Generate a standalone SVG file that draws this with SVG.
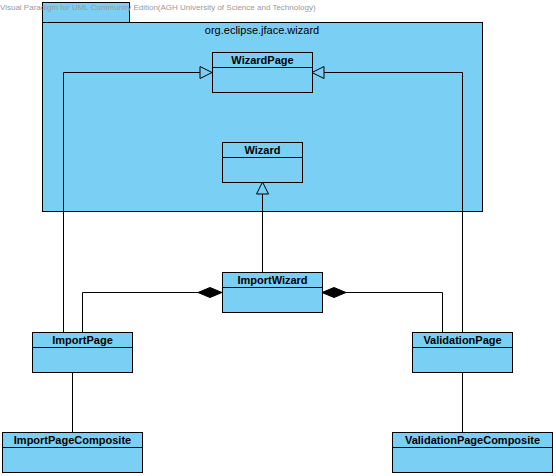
<svg xmlns="http://www.w3.org/2000/svg" width="556" height="476" viewBox="0 0 556 476">
<style>
.box{fill:#7ACFF5;stroke:#000;stroke-width:1}
.ln{fill:none;stroke:#000;stroke-width:1}
.name{font-family:"Liberation Sans",Arial,sans-serif;font-size:11px;font-weight:bold;text-anchor:middle;fill:#000}
.pkg{font-family:"Liberation Sans",Arial,sans-serif;font-size:11px;text-anchor:middle;fill:#000}
.wm{font-family:"Liberation Sans",Arial,sans-serif;font-size:8px;fill:#9a9a9a}
.gen{fill:#7ACFF5;stroke:#000;stroke-width:1}
.comp{fill:#000;stroke:#000;stroke-width:1}
</style>
<rect width="556" height="476" fill="#fff"/>
<g id="package">
<rect class="box" x="42.5" y="2.5" width="87" height="20"/>
<rect class="box" x="42.5" y="22.5" width="440" height="189"/>
<text class="pkg" x="262" y="34">org.eclipse.jface.wizard</text>
</g>
<text class="wm" x="0" y="10">Visual Paradigm for UML Community Edition(AGH University of Science and Technology)</text>
<g id="connectors">
<polyline class="ln" points="63.5,332 63.5,72.5 200,72.5"/>
<polygon class="gen" points="212,72.5 200,66.5 200,78.5"/>
<polyline class="ln" points="462.5,332 462.5,72.5 324,72.5"/>
<polygon class="gen" points="312,72.5 324,66.5 324,78.5"/>
<line class="ln" x1="262.5" y1="272" x2="262.5" y2="194"/>
<polygon class="gen" points="262.5,182 256.5,194 268.5,194"/>
<polyline class="ln" points="82.5,332 82.5,292.5 198,292.5"/>
<polygon class="comp" points="222,292.5 210,287.5 198,292.5 210,297.5"/>
<polyline class="ln" points="442.5,332 442.5,292.5 346,292.5"/>
<polygon class="comp" points="322,292.5 334,287.5 346,292.5 334,297.5"/>
<line class="ln" x1="72.5" y1="372" x2="72.5" y2="432"/>
<line class="ln" x1="462.5" y1="372" x2="462.5" y2="432"/>
</g>
<g id="WizardPage">
<rect class="box" x="212.5" y="52.5" width="100" height="40"/>
<line class="ln" x1="212.5" y1="67.5" x2="312.5" y2="67.5"/>
<text class="name" x="262.5" y="64">WizardPage</text>
</g>
<g id="Wizard">
<rect class="box" x="222.5" y="142.5" width="80" height="40"/>
<line class="ln" x1="222.5" y1="157.5" x2="302.5" y2="157.5"/>
<text class="name" x="262.5" y="154">Wizard</text>
</g>
<g id="ImportWizard">
<rect class="box" x="222.5" y="272.5" width="100" height="40"/>
<line class="ln" x1="222.5" y1="287.5" x2="322.5" y2="287.5"/>
<text class="name" x="272.5" y="284">ImportWizard</text>
</g>
<g id="ImportPage">
<rect class="box" x="32.5" y="332.5" width="100" height="40"/>
<line class="ln" x1="32.5" y1="347.5" x2="132.5" y2="347.5"/>
<text class="name" x="82.5" y="344">ImportPage</text>
</g>
<g id="ValidationPage">
<rect class="box" x="412.5" y="332.5" width="100" height="40"/>
<line class="ln" x1="412.5" y1="347.5" x2="512.5" y2="347.5"/>
<text class="name" x="462.5" y="344">ValidationPage</text>
</g>
<g id="ImportPageComposite">
<rect class="box" x="2.5" y="432.5" width="140" height="40"/>
<line class="ln" x1="2.5" y1="447.5" x2="142.5" y2="447.5"/>
<text class="name" x="72.5" y="444">ImportPageComposite</text>
</g>
<g id="ValidationPageComposite">
<rect class="box" x="392.5" y="432.5" width="160" height="40"/>
<line class="ln" x1="392.5" y1="447.5" x2="552.5" y2="447.5"/>
<text class="name" x="472.5" y="444">ValidationPageComposite</text>
</g>
</svg>
